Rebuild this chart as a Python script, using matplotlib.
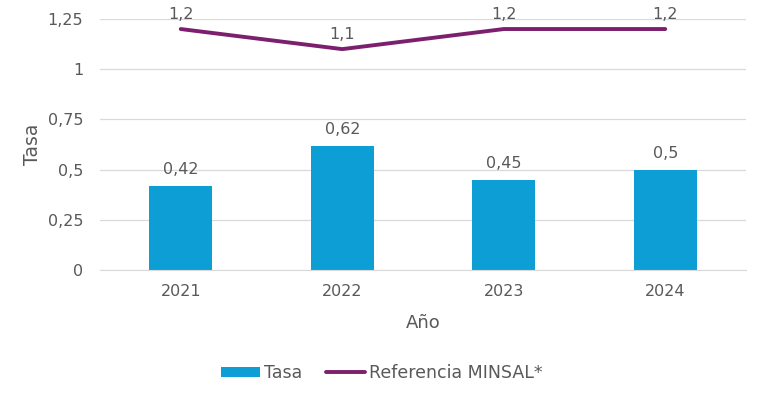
import numpy as np
import matplotlib
matplotlib.use("Agg")
import matplotlib.pyplot as plt

plt.rcParams['font.family'] = ['DejaVu Sans']

years = ['2021', '2022', '2023', '2024']
tasa = [0.42, 0.62, 0.45, 0.5]
referencia = [1.2, 1.1, 1.2, 1.2]
tasa_labels = ['0,42', '0,62', '0,45', '0,5']
ref_labels = ['1,2', '1,1', '1,2', '1,2']
yticks = [0, 0.25, 0.5, 0.75, 1, 1.25]
ytick_labels = ['0', '0,25', '0,5', '0,75', '1', '1,25']

bar_color = '#0E9ED6'
line_color = '#7B1F6E'
text_color = '#595959'

fig = plt.figure(figsize=(7.64, 3.99), dpi=100)
ax = fig.add_axes([100/764, 129/399, 646/764, 251/399])

x = np.arange(len(years))
bars = ax.bar(x, tasa, width=0.39, color=bar_color, label='Tasa', zorder=2)
line, = ax.plot(x, referencia, color=line_color, linewidth=2.8, label='Referencia MINSAL*',
                zorder=3, solid_capstyle='round')

for i in range(len(years)):
    ax.annotate(tasa_labels[i], (x[i], tasa[i]), textcoords="offset points",
                xytext=(0, 6), ha='center', va='bottom', fontsize=11.5, color=text_color)
    ax.annotate(ref_labels[i], (x[i], referencia[i]), textcoords="offset points",
                xytext=(0, 5), ha='center', va='bottom', fontsize=11.5, color=text_color)

ax.set_xlim(-0.5, len(years) - 0.5)
ax.set_ylim(0, 1.25)
ax.set_yticks(yticks)
ax.set_yticklabels(ytick_labels)
ax.set_xticks(x)
ax.set_xticklabels(years)
ax.grid(axis='y', color='#D9D9D9', linewidth=0.9, zorder=0)
ax.set_axisbelow(True)
for s in ax.spines.values():
    s.set_visible(False)
ax.spines['bottom'].set_visible(True)
ax.spines['bottom'].set_color('#D9D9D9')
ax.tick_params(axis='both', length=0, labelsize=11.5, colors=text_color)
ax.tick_params(axis='y', pad=12)
ax.tick_params(axis='x', pad=10)

ax.set_xlabel('Año', fontsize=13, color=text_color, labelpad=11)
ax.set_ylabel('Tasa', fontsize=13.5, color=text_color, labelpad=4)

fig.legend([bars, line], ['Tasa', 'Referencia MINSAL*'], loc='center',
           bbox_to_anchor=(0.5, 1 - 373/399), ncol=2, frameon=False,
           fontsize=12.5, labelcolor=text_color, handlelength=2.2, handleheight=0.55,
           columnspacing=1.4, handletextpad=0.25)

fig.savefig('out.png', dpi=100)
